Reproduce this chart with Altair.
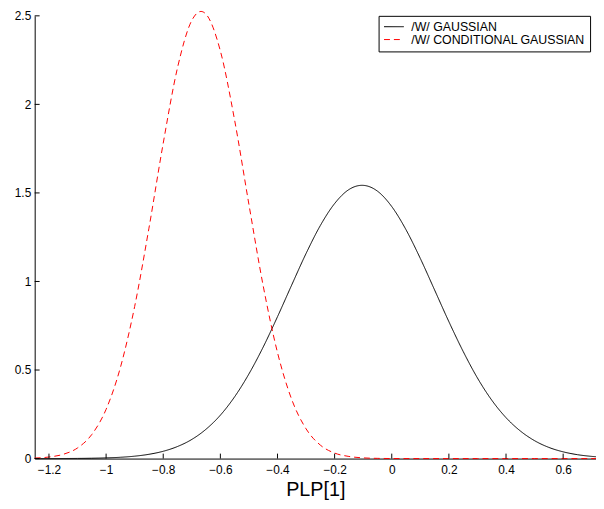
import altair as alt
import pandas as pd

series_names = ["/W/ GAUSSIAN", "/W/ CONDITIONAL GAUSSIAN"]

gauss_x = [-1.25, -1.2, -1.15, -1.1, -1.05, -1.0, -0.95, -0.9, -0.85, -0.8,
           -0.75, -0.7, -0.65, -0.6, -0.55, -0.5, -0.45, -0.4, -0.35, -0.3,
           -0.25, -0.2, -0.15, -0.104, -0.05, 0.0, 0.05, 0.1, 0.15, 0.2,
           0.25, 0.3, 0.35, 0.4, 0.45, 0.5, 0.55, 0.6, 0.65, 0.7, 0.715]
gauss_y = [0.0001, 0.0002, 0.0004, 0.0009, 0.0019, 0.0038, 0.0073, 0.0135, 0.0241, 0.0412,
           0.0681, 0.108, 0.166, 0.245, 0.349, 0.478, 0.630, 0.801, 0.981, 1.158,
           1.316, 1.440, 1.519, 1.543, 1.510, 1.423, 1.292, 1.130, 0.952, 0.773,
           0.605, 0.455, 0.330, 0.231, 0.156, 0.101, 0.063, 0.038, 0.022, 0.0123, 0.0102]

cond_x = [-1.25, -1.2, -1.15, -1.1, -1.05, -1.0, -0.95, -0.9, -0.85, -0.8,
          -0.75, -0.7, -0.668, -0.65, -0.6, -0.55, -0.5, -0.45, -0.4, -0.35,
          -0.3, -0.25, -0.2, -0.15, -0.1, -0.05, 0.0, 0.05, 0.1, 0.2,
          0.3, 0.4, 0.5, 0.6, 0.715]
cond_y = [0.0029, 0.0087, 0.024, 0.060, 0.136, 0.278, 0.514, 0.859, 1.301, 1.781,
          2.207, 2.474, 2.525, 2.509, 2.302, 1.910, 1.435, 0.975, 0.599, 0.333,
          0.168, 0.076, 0.031, 0.012, 0.0039, 0.0012, 0.0003, 0.0001, 0.0, 0.0,
          0.0, 0.0, 0.0, 0.0, 0.0]

x_ticks = [-1.2, -1.0, -0.8, -0.6, -0.4, -0.2, 0.0, 0.2, 0.4, 0.6]
y_ticks = [0.0, 0.5, 1.0, 1.5, 2.0, 2.5]

W, H = 568, 448
FONT = "Liberation Sans"

df = pd.concat([
    pd.DataFrame({"x": gauss_x, "y": gauss_y, "series": series_names[0]}),
    pd.DataFrame({"x": cond_x, "y": cond_y, "series": series_names[1]}),
])

xscale = alt.Scale(domain=[-1.25, 0.715], nice=False, zero=False)
yscale = alt.Scale(domain=[0, 2.5], nice=False, zero=False)

xaxis = alt.Axis(values=x_ticks, format="~g", ticks=False, grid=False,
                 labelPadding=6, title="PLP[1]", titlePadding=4)
yaxis = alt.Axis(values=y_ticks, format="~g", ticks=False, grid=False,
                 labelPadding=4, title=None)

legend = alt.Legend(title=None, orient="none", legendX=348, legendY=0,
                    clipHeight=12, rowPadding=-3)

lines = alt.Chart(df).mark_line(interpolate="monotone", strokeWidth=1).encode(
    x=alt.X("x:Q", scale=xscale, axis=xaxis, title="PLP[1]"),
    y=alt.Y("y:Q", scale=yscale, axis=yaxis, title=None),
    color=alt.Color("series:N", scale=alt.Scale(domain=series_names, range=["#000000", "#ff0000"]),
                    legend=legend),
    strokeDash=alt.StrokeDash("series:N", scale=alt.Scale(domain=series_names, range=[[1, 0], [6, 4]]),
                              legend=legend),
)

xt = alt.Chart(pd.DataFrame({"x": x_ticks})).mark_rule(color="black", strokeWidth=1).encode(
    x=alt.X("x:Q", scale=xscale, axis=xaxis, title="PLP[1]"),
    y=alt.value(H), y2=alt.value(H - 5),
)
yt = alt.Chart(pd.DataFrame({"y": y_ticks})).mark_rule(color="black", strokeWidth=1).encode(
    y=alt.Y("y:Q", scale=yscale, axis=yaxis, title=None),
    x=alt.value(0), x2=alt.value(5),
)

chart = alt.layer(lines, xt, yt).properties(
    width=W, height=H,
    autosize=alt.AutoSizeParams(type="none"),
    padding={"left": 27, "top": 5, "right": 0, "bottom": 40},
).configure_view(stroke=None).configure_axis(
    domainColor="black", domainWidth=1, labelColor="black", labelFont=FONT,
    labelFontSize=12, titleFont=FONT, titleFontSize=20, titleFontWeight="normal",
    titleColor="black",
).configure_legend(
    strokeColor="black", fillColor="white", padding=5, symbolType="stroke",
    symbolSize=400, symbolStrokeWidth=1, labelFont=FONT, labelFontSize=12.5,
    labelColor="black", labelOffset=7, cornerRadius=0, labelLimit=400,
)

chart.save("out.html", embed_options={"renderer": "svg", "actions": False})
